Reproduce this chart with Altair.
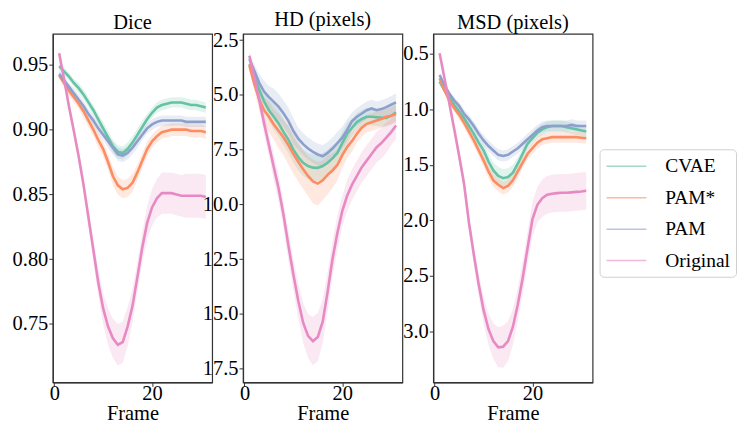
import altair as alt
import pandas as pd

frames = list(range(1, 32))
methods = ["CVAE", "PAM*", "PAM", "Original"]
colors = ["#66c2a5", "#fc8d62", "#8da0cb", "#e78ac3"]

# ---------------- Dice ----------------
dice_cvae = [0.949, 0.945, 0.941, 0.936, 0.932, 0.927, 0.921, 0.915, 0.908, 0.901, 0.894, 0.887, 0.883, 0.882, 0.885, 0.890,
             0.896, 0.902, 0.908, 0.913, 0.917, 0.919, 0.920, 0.921, 0.921, 0.921, 0.920, 0.919, 0.919, 0.918, 0.917]
dice_pams = [0.942, 0.936, 0.930, 0.925, 0.920, 0.914, 0.907, 0.900, 0.892, 0.885, 0.875, 0.864, 0.857, 0.854, 0.855, 0.859,
             0.867, 0.876, 0.885, 0.891, 0.895, 0.898, 0.899, 0.900, 0.900, 0.900, 0.900, 0.899, 0.899, 0.899, 0.898]
dice_pam = [0.943, 0.938, 0.933, 0.928, 0.923, 0.918, 0.912, 0.907, 0.901, 0.896, 0.891, 0.886, 0.881, 0.880, 0.882, 0.886,
            0.891, 0.896, 0.901, 0.904, 0.906, 0.907, 0.907, 0.907, 0.907, 0.907, 0.906, 0.906, 0.906, 0.906, 0.906]
dice_orig = [0.959, 0.939, 0.918, 0.899, 0.879, 0.857, 0.832, 0.807, 0.782, 0.762, 0.748, 0.739, 0.734, 0.736, 0.748, 0.764,
             0.786, 0.809, 0.828, 0.840, 0.847, 0.851, 0.851, 0.851, 0.850, 0.849, 0.849, 0.849, 0.849, 0.849, 0.848]
dice_cvae_ci = [0.003, 0.003, 0.003, 0.003, 0.004, 0.004, 0.004, 0.004, 0.004, 0.005, 0.005, 0.005, 0.005, 0.005, 0.005, 0.005,
                0.005, 0.005, 0.004, 0.004, 0.004, 0.004, 0.004, 0.004, 0.004, 0.004, 0.004, 0.004, 0.004, 0.004, 0.004]
dice_pams_ci = [0.003, 0.003, 0.004, 0.004, 0.004, 0.005, 0.005, 0.005, 0.006, 0.006, 0.006, 0.007, 0.007, 0.007, 0.007, 0.007,
                0.006, 0.006, 0.006, 0.005, 0.005, 0.005, 0.005, 0.005, 0.005, 0.005, 0.005, 0.005, 0.005, 0.005, 0.005]
dice_pam_ci = [0.003, 0.003, 0.003, 0.004, 0.004, 0.004, 0.004, 0.004, 0.004, 0.004, 0.005, 0.005, 0.005, 0.005, 0.005, 0.005,
               0.005, 0.004, 0.004, 0.004, 0.004, 0.004, 0.004, 0.004, 0.004, 0.004, 0.004, 0.004, 0.004, 0.004, 0.004]
dice_orig_ci = [0.003, 0.003, 0.004, 0.004, 0.005, 0.006, 0.007, 0.008, 0.010, 0.012, 0.014, 0.015, 0.016, 0.016, 0.015, 0.013,
                0.012, 0.012, 0.013, 0.014, 0.015, 0.016, 0.016, 0.016, 0.016, 0.016, 0.017, 0.017, 0.017, 0.017, 0.017]

# ---------------- HD ----------------
hd_cvae = [3.59, 4.20, 4.75, 5.30, 5.70, 6.00, 6.30, 6.70, 7.05, 7.50, 7.85, 8.10, 8.25, 8.32, 8.33, 8.25,
           8.10, 7.90, 7.65, 7.20, 6.77, 6.50, 6.24, 6.10, 6.00, 6.00, 6.02, 6.04, 6.05, 5.95, 5.79]
hd_pams = [3.67, 4.50, 5.20, 5.70, 6.00, 6.35, 6.65, 6.95, 7.30, 7.70, 8.05, 8.40, 8.70, 8.95, 9.05, 8.90,
           8.65, 8.45, 8.20, 7.75, 7.38, 7.10, 6.77, 6.50, 6.32, 6.25, 6.17, 6.10, 6.00, 5.95, 5.87]
hd_pam = [3.36, 3.90, 4.45, 4.85, 5.10, 5.32, 5.55, 5.85, 6.20, 6.65, 7.00, 7.25, 7.45, 7.60, 7.72, 7.80,
          7.65, 7.45, 7.20, 6.95, 6.60, 6.20, 6.00, 5.85, 5.70, 5.62, 5.70, 5.65, 5.56, 5.45, 5.34]
hd_orig = [3.21, 4.20, 5.20, 6.30, 7.30, 8.30, 9.30, 10.50, 11.90, 13.20, 14.40, 15.40, 16.00, 16.24, 16.05, 15.35,
           14.00, 12.50, 11.30, 10.30, 9.60, 9.10, 8.70, 8.30, 8.00, 7.70, 7.40, 7.20, 6.95, 6.70, 6.40]
hd_cvae_ci = [0.2, 0.3, 0.4, 0.5, 0.5, 0.6, 0.6, 0.6, 0.6, 0.6, 0.6, 0.6, 0.6, 0.6, 0.6, 0.6,
              0.6, 0.6, 0.5, 0.5, 0.5, 0.4, 0.4, 0.4, 0.4, 0.4, 0.4, 0.4, 0.4, 0.4, 0.4]
hd_pams_ci = [0.2, 0.3, 0.5, 0.6, 0.7, 0.7, 0.8, 0.8, 0.9, 0.9, 0.9, 0.9, 0.9, 1.0, 1.0, 0.9,
              0.9, 0.8, 0.7, 0.6, 0.5, 0.5, 0.4, 0.4, 0.4, 0.4, 0.4, 0.4, 0.4, 0.4, 0.4]
hd_pam_ci = [0.2, 0.3, 0.4, 0.5, 0.5, 0.6, 0.6, 0.6, 0.6, 0.6, 0.5, 0.5, 0.5, 0.5, 0.5, 0.5,
             0.5, 0.5, 0.5, 0.5, 0.5, 0.4, 0.4, 0.4, 0.4, 0.4, 0.4, 0.4, 0.4, 0.4, 0.4]
hd_orig_ci = [0.2, 0.3, 0.4, 0.5, 0.5, 0.6, 0.6, 0.6, 0.7, 0.7, 0.8, 0.9, 1.0, 1.1, 1.1, 1.0,
              0.9, 0.8, 0.8, 0.7, 0.7, 0.7, 0.7, 0.7, 0.7, 0.7, 0.7, 0.7, 0.7, 0.6, 0.6]

# ---------------- MSD ----------------
msd_cvae = [0.75, 0.83, 0.89, 0.96, 1.02, 1.08, 1.15, 1.22, 1.30, 1.37, 1.47, 1.55, 1.60, 1.62, 1.61, 1.57,
            1.49, 1.40, 1.31, 1.26, 1.21, 1.18, 1.16, 1.15, 1.15, 1.15, 1.16, 1.17, 1.18, 1.19, 1.20]
msd_pams = [0.72, 0.83, 0.92, 0.99, 1.05, 1.12, 1.20, 1.28, 1.37, 1.46, 1.56, 1.64, 1.68, 1.71, 1.69, 1.64,
            1.56, 1.48, 1.40, 1.35, 1.30, 1.27, 1.26, 1.25, 1.25, 1.25, 1.25, 1.25, 1.25, 1.255, 1.26]
msd_pam = [0.69, 0.78, 0.86, 0.92, 0.97, 1.04, 1.09, 1.15, 1.22, 1.28, 1.33, 1.37, 1.41, 1.42, 1.41, 1.38,
           1.35, 1.31, 1.27, 1.23, 1.19, 1.16, 1.15, 1.15, 1.15, 1.15, 1.15, 1.14, 1.15, 1.15, 1.15]
msd_orig = [0.494, 0.72, 0.95, 1.18, 1.42, 1.67, 2.02, 2.31, 2.58, 2.81, 2.98, 3.09, 3.145, 3.14, 3.09, 2.96,
            2.76, 2.52, 2.25, 1.99, 1.86, 1.80, 1.77, 1.76, 1.755, 1.752, 1.752, 1.748, 1.744, 1.74, 1.734]
msd_cvae_ci = [0.02, 0.02, 0.03, 0.03, 0.04, 0.04, 0.04, 0.05, 0.05, 0.06, 0.07, 0.07, 0.08, 0.08, 0.08, 0.07,
               0.06, 0.05, 0.05, 0.05, 0.05, 0.05, 0.05, 0.05, 0.05, 0.05, 0.05, 0.05, 0.05, 0.05, 0.05]
msd_pams_ci = [0.02, 0.02, 0.03, 0.03, 0.04, 0.04, 0.05, 0.05, 0.05, 0.06, 0.06, 0.06, 0.06, 0.06, 0.06, 0.06,
               0.06, 0.05, 0.05, 0.05, 0.05, 0.05, 0.05, 0.05, 0.05, 0.05, 0.05, 0.05, 0.05, 0.05, 0.05]
msd_pam_ci = [0.02, 0.02, 0.03, 0.03, 0.04, 0.04, 0.04, 0.04, 0.04, 0.05, 0.05, 0.05, 0.05, 0.05, 0.05, 0.05,
              0.05, 0.05, 0.05, 0.05, 0.05, 0.05, 0.05, 0.05, 0.05, 0.05, 0.05, 0.05, 0.05, 0.05, 0.05]
msd_orig_ci = [0.02, 0.03, 0.04, 0.05, 0.06, 0.07, 0.08, 0.09, 0.10, 0.12, 0.14, 0.16, 0.18, 0.19, 0.18, 0.16,
               0.15, 0.15, 0.15, 0.16, 0.16, 0.17, 0.17, 0.17, 0.17, 0.17, 0.17, 0.17, 0.17, 0.17, 0.17]

FONT = "Liberation Serif, Times New Roman, serif"


def make_df(series, cis):
    rows = []
    for m, vals, ci in zip(methods, series, cis):
        for f, v, c in zip(frames, vals, ci):
            rows.append({"frame": f, "method": m, "value": v, "lo": v - c, "hi": v + c})
    return pd.DataFrame(rows)


color_scale = alt.Scale(domain=methods, range=colors)


def panel(df, title, domain, ticks, fmt, reverse):
    x = alt.X("frame:Q", scale=alt.Scale(domain=[-0.3, 32.3], nice=False, zero=False),
              axis=alt.Axis(values=[0, 20], title="Frame", format="d"))
    yscale = alt.Scale(domain=domain, nice=False, zero=False, reverse=reverse)
    yaxis = alt.Axis(values=ticks, format=fmt, title=None)
    color = alt.Color("method:N", scale=color_scale, title=None)
    band = alt.Chart(df).mark_area(opacity=0.2).encode(
        x=x,
        y=alt.Y("lo:Q", scale=yscale, axis=yaxis),
        y2="hi:Q",
        color=color,
    )
    line = alt.Chart(df).mark_line(strokeWidth=2.6).encode(
        x=x,
        y=alt.Y("value:Q", scale=yscale, axis=yaxis),
        color=color,
    )
    return alt.layer(band, line).properties(
        width=160, height=350,
        title=alt.TitleParams(title, font=FONT, fontSize=20.5, fontWeight="normal", color="black", offset=0),
    )


dice_df = make_df([dice_cvae, dice_pams, dice_pam, dice_orig], [dice_cvae_ci, dice_pams_ci, dice_pam_ci, dice_orig_ci])
hd_df = make_df([hd_cvae, hd_pams, hd_pam, hd_orig], [hd_cvae_ci, hd_pams_ci, hd_pam_ci, hd_orig_ci])
msd_df = make_df([msd_cvae, msd_pams, msd_pam, msd_orig], [msd_cvae_ci, msd_pams_ci, msd_pam_ci, msd_orig_ci])

p1 = panel(dice_df, "Dice", [0.705, 0.974], [0.75, 0.80, 0.85, 0.90, 0.95], ".2f", False)
p2 = panel(hd_df, "HD (pixels)", [2.21, 18.12], [2.5, 5.0, 7.5, 10.0, 12.5, 15.0, 17.5], ".1f", True)
p3 = panel(msd_df, "MSD (pixels)", [0.318, 3.461], [0.5, 1.0, 1.5, 2.0, 2.5, 3.0], ".1f", True)

chart = alt.hconcat(p1, p2, p3, spacing=31, bounds="flush").properties(
    padding={"left": 3, "top": 0, "right": 0, "bottom": 0},
).configure_view(
    stroke="#333333", strokeWidth=1.2
).configure_axis(
    grid=False, labelFont=FONT, labelFontSize=20.5, labelColor="black",
    titleFont=FONT, titleFontSize=20.5, titleFontWeight="normal", titleColor="black", titlePadding=0,
    domainColor="#333333", domainWidth=1.2, tickColor="#333333", tickSize=4, labelPadding=1,
).configure_axisX(
    labelPadding=-3
).configure_legend(
    orient="none", legendX=549, legendY=116,
    symbolType="M-1,0L3,0", symbolSize=400, symbolStrokeWidth=1.5, symbolOpacity=0.6,
    labelFont=FONT, labelFontSize=19.5, labelColor="black", labelOffset=38,
    fillColor="white", strokeColor="#d0d0d0", cornerRadius=4, padding=6, rowPadding=10.6,
).configure_concat(spacing=31)

chart.save("out.html", embed_options={"renderer": "svg", "actions": False})
